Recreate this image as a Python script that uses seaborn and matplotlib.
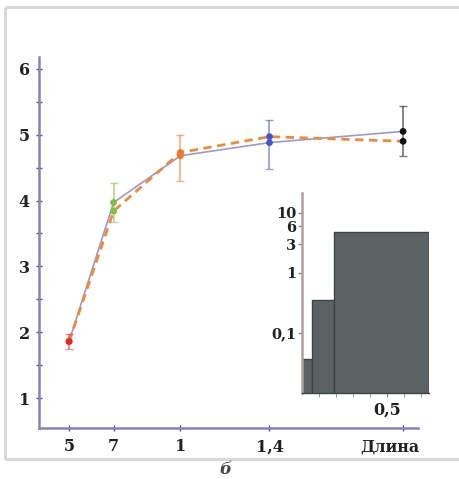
import numpy as np
import pandas as pd
import matplotlib
matplotlib.use("Agg")
import matplotlib.pyplot as plt
import seaborn as sns
from matplotlib.lines import Line2D

# main panel: mean value vs. length
lengths = [0.5, 0.7, 1.0, 1.4, 2.0]
tick_labels = ["5", "7", "1", "1,4", ""]
end_label = "Длина"
solid_vals = [1.86, 3.97, 4.68, 4.88, 5.05]
dashed_vals = [1.86, 3.84, 4.73, 4.97, 4.90]
err_low = [1.75, 3.68, 4.29, 4.48, 4.67]
err_high = [1.98, 4.27, 5.00, 5.23, 5.44]
point_colors = ["#e52a22", "#7cc142", "#f07a28", "#4a52c8", "#111111"]
y_ticks = [1, 2, 3, 4, 5, 6]

# inset: histogram on log scale
bin_edges = [0.0, 0.06, 0.19, 0.75]
bin_heights = [0.037, 0.355, 4.8]
inset_yticks = [0.1, 1, 3, 6, 10]
inset_ylabels = ["0,1", "1", "3", "6", "10"]

sns.set_style("white")
plt.rcParams["font.family"] = ["DejaVu Serif"]
plt.rcParams["font.weight"] = "bold"

axis_col = "#8583b8"
txt_col = "#222222"
fig = plt.figure(figsize=(4.6, 4.79), dpi=100)

# light frame around the panel (left, top, bottom only; right edge is off the picture)
fx0, fx1, fy0, fy1 = 5 / 460, 1.02, 1 - 459 / 479, 1 - 7 / 479
for xs, ys in [([fx0, fx0], [fy0, fy1]), ([fx0, fx1], [fy1, fy1]), ([fx0, fx1], [fy0, fy0])]:
    fig.add_artist(Line2D(xs, ys, transform=fig.transFigure, color="#d9d9d9", lw=2.2,
                          solid_capstyle="butt", clip_on=False))

ax = fig.add_axes([39 / 460, 51 / 479, 379 / 460, 371 / 479])
df = pd.DataFrame({"length": lengths * 2,
                   "value": solid_vals + dashed_vals,
                   "series": ["solid"] * 5 + ["dashed"] * 5})
sns.lineplot(data=df[df.series == "solid"], x="length", y="value", ax=ax,
             color="#9a9ad2", lw=1.2, zorder=2)
sns.lineplot(data=df[df.series == "dashed"], x="length", y="value", ax=ax,
             color="#f08a3a", lw=2.0, zorder=3)
ax.lines[-1].set_dashes((3, 2))

for x, lo, hi, c in zip(lengths, err_low, err_high, point_colors):
    mid = (lo + hi) / 2
    ax.errorbar(x, mid, yerr=(hi - lo) / 2, fmt="none", ecolor=c, alpha=0.55,
                elinewidth=1.3, capsize=3, capthick=1.0, zorder=4)
sns.scatterplot(x=lengths * 2, y=solid_vals + dashed_vals, hue=list(range(10)),
                palette=point_colors * 2, ax=ax, s=24, edgecolor="none", legend=False, zorder=5)

ax.set_xlim(0.365, 2.067)
ax.set_ylim(0.545, 6.18)
ax.set_xlabel("")
ax.set_ylabel("")
ax.set_xticks(lengths)
ax.set_xticklabels(tick_labels)
ax.set_yticks(y_ticks)
ax.set_yticks(np.arange(1.5, 6, 1.0), minor=True)
for s in ["top", "right"]:
    ax.spines[s].set_visible(False)
for s in ["left", "bottom"]:
    ax.spines[s].set_color(axis_col)
    ax.spines[s].set_linewidth(1.8)
ax.tick_params(axis="both", which="both", direction="inout", color="#55538a",
               length=5, width=1.0, labelsize=11.5, pad=4, left=True, bottom=True,
               labelcolor=txt_col)
ax.tick_params(axis="y", which="minor", length=4)
ax.tick_params(axis="x", pad=5)
ax.text(2.075, -23 / 371, end_label, transform=ax.get_xaxis_transform(), ha="right",
        va="baseline", fontsize=11.5, fontweight="bold", color=txt_col)
ax.set_facecolor("none")

fig.text(225 / 460, 10 / 479, "б", ha="center", va="center", fontsize=12,
         style="italic", color="#444444")

# inset
ain = fig.add_axes([302 / 460, 86 / 479, 127 / 460, 200 / 479])
mids = [(a + b) / 2 for a, b in zip(bin_edges[:-1], bin_edges[1:])]
sns.histplot(x=mids, weights=bin_heights, bins=bin_edges, ax=ain,
             color="#5c6263", alpha=1, edgecolor="#3e4444", linewidth=1.0)
ain.set_yscale("log")
ain.set_ylim(0.01, 21.5)
ain.set_xlim(0, 0.75)
ain.set_xlabel("")
ain.set_ylabel("")
ain.set_yticks(inset_yticks)
ain.set_yticklabels(inset_ylabels)
ain.yaxis.set_minor_locator(matplotlib.ticker.NullLocator())
ain.set_xticks([0.5])
ain.set_xticklabels(["0,5"])
ain.set_xticks(np.arange(0.1, 0.75, 0.1), minor=True)
for s in ["top", "right"]:
    ain.spines[s].set_visible(False)
ain.spines["left"].set_color("#aaa39d")
ain.spines["left"].set_linewidth(1.8)
ain.spines["bottom"].set_color("#3e4444")
ain.spines["bottom"].set_linewidth(1.0)
ain.tick_params(axis="y", direction="out", length=3, color="#8d8680", width=1,
                labelsize=10.5, pad=1, left=True, labelcolor=txt_col)
ain.tick_params(axis="x", which="both", direction="out", length=3, color="#8d8680",
                labelsize=11.5, pad=3, bottom=True, labelcolor=txt_col)
for lab in ain.get_yticklabels():
    lab.set_verticalalignment("center_baseline")
ain.set_facecolor("none")

fig.savefig("out.png", dpi=100)
